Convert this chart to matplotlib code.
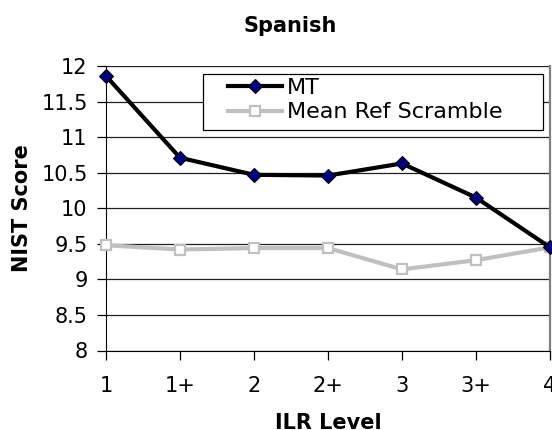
import matplotlib.pyplot as plt
from matplotlib.patches import Rectangle

levels = ['1', '1+', '2', '2+', '3', '3+', '4']
mt = [11.86, 10.71, 10.47, 10.46, 10.63, 10.15, 9.45]
ref_scramble = [9.48, 9.42, 9.44, 9.44, 9.14, 9.27, 9.45]
yticks = [8, 8.5, 9, 9.5, 10, 10.5, 11, 11.5, 12]

W, H = 552, 430
fig = plt.figure(figsize=(W / 100, H / 100), dpi=100)
ax = fig.add_axes([106 / W, 1 - 350.5 / H, 444 / W, 284.5 / H])

x = list(range(len(levels)))
ax.plot(x, mt, color='black', lw=3, marker='D', ms=7,
        mfc='#000080', mec='black', mew=0.8, label='MT', zorder=4, clip_on=False)
ax.plot(x, ref_scramble, color='#c0c0c0', lw=3, marker='s', ms=7.5,
        mfc='white', mec='#c0c0c0', mew=1.6, label='Mean Ref Scramble', zorder=3,
        clip_on=False)

ax.set_xlim(0, len(levels) - 1)
ax.set_ylim(8, 12)
ax.set_xticks(x)
ax.set_xticklabels(levels, fontsize=15)
ax.set_yticks(yticks)
ax.set_yticklabels(['{:g}'.format(v) for v in yticks], fontsize=15)
ax.yaxis.grid(True, color='#202020', lw=0.9)
ax.set_axisbelow(True)
ax.tick_params(axis='both', direction='out', length=6.2, width=0.9)
ax.tick_params(axis='x', pad=12.5)
ax.tick_params(axis='y', pad=7)

ax.spines['left'].set_color('black')
ax.spines['bottom'].set_color('black')
ax.spines['top'].set_visible(False)
ax.spines['right'].set_color('#808080')
ax.spines['right'].set_linewidth(1.6)

fig.text(290 / W, 1 - 32 / H, 'Spanish', fontsize=15, fontweight='bold',
         ha='center', va='baseline')
fig.text(328 / W, 1 / H, 'ILR Level', fontsize=15, fontweight='bold',
         ha='center', va='baseline')
fig.text(22 / W, 1 - 208 / H, 'NIST Score', fontsize=15, fontweight='bold',
         ha='center', va='center', rotation=90)

# legend box drawn separately so its padding can match
box = Rectangle((203 / W, 1 - 129.5 / H), 340 / W, 55.5 / H, transform=fig.transFigure,
                facecolor='white', edgecolor='black', lw=0.9, zorder=5, clip_on=False)
ax.add_patch(box)
leg = ax.legend(loc='upper left', bbox_to_anchor=(228 / W, 1 - 78 / H),
                bbox_transform=fig.transFigure, fontsize=16, frameon=False,
                borderpad=0, labelspacing=0.2, handlelength=2.45,
                handletextpad=0.22, borderaxespad=0)
leg.set_zorder(6)

plt.savefig('out.png', dpi=100)
